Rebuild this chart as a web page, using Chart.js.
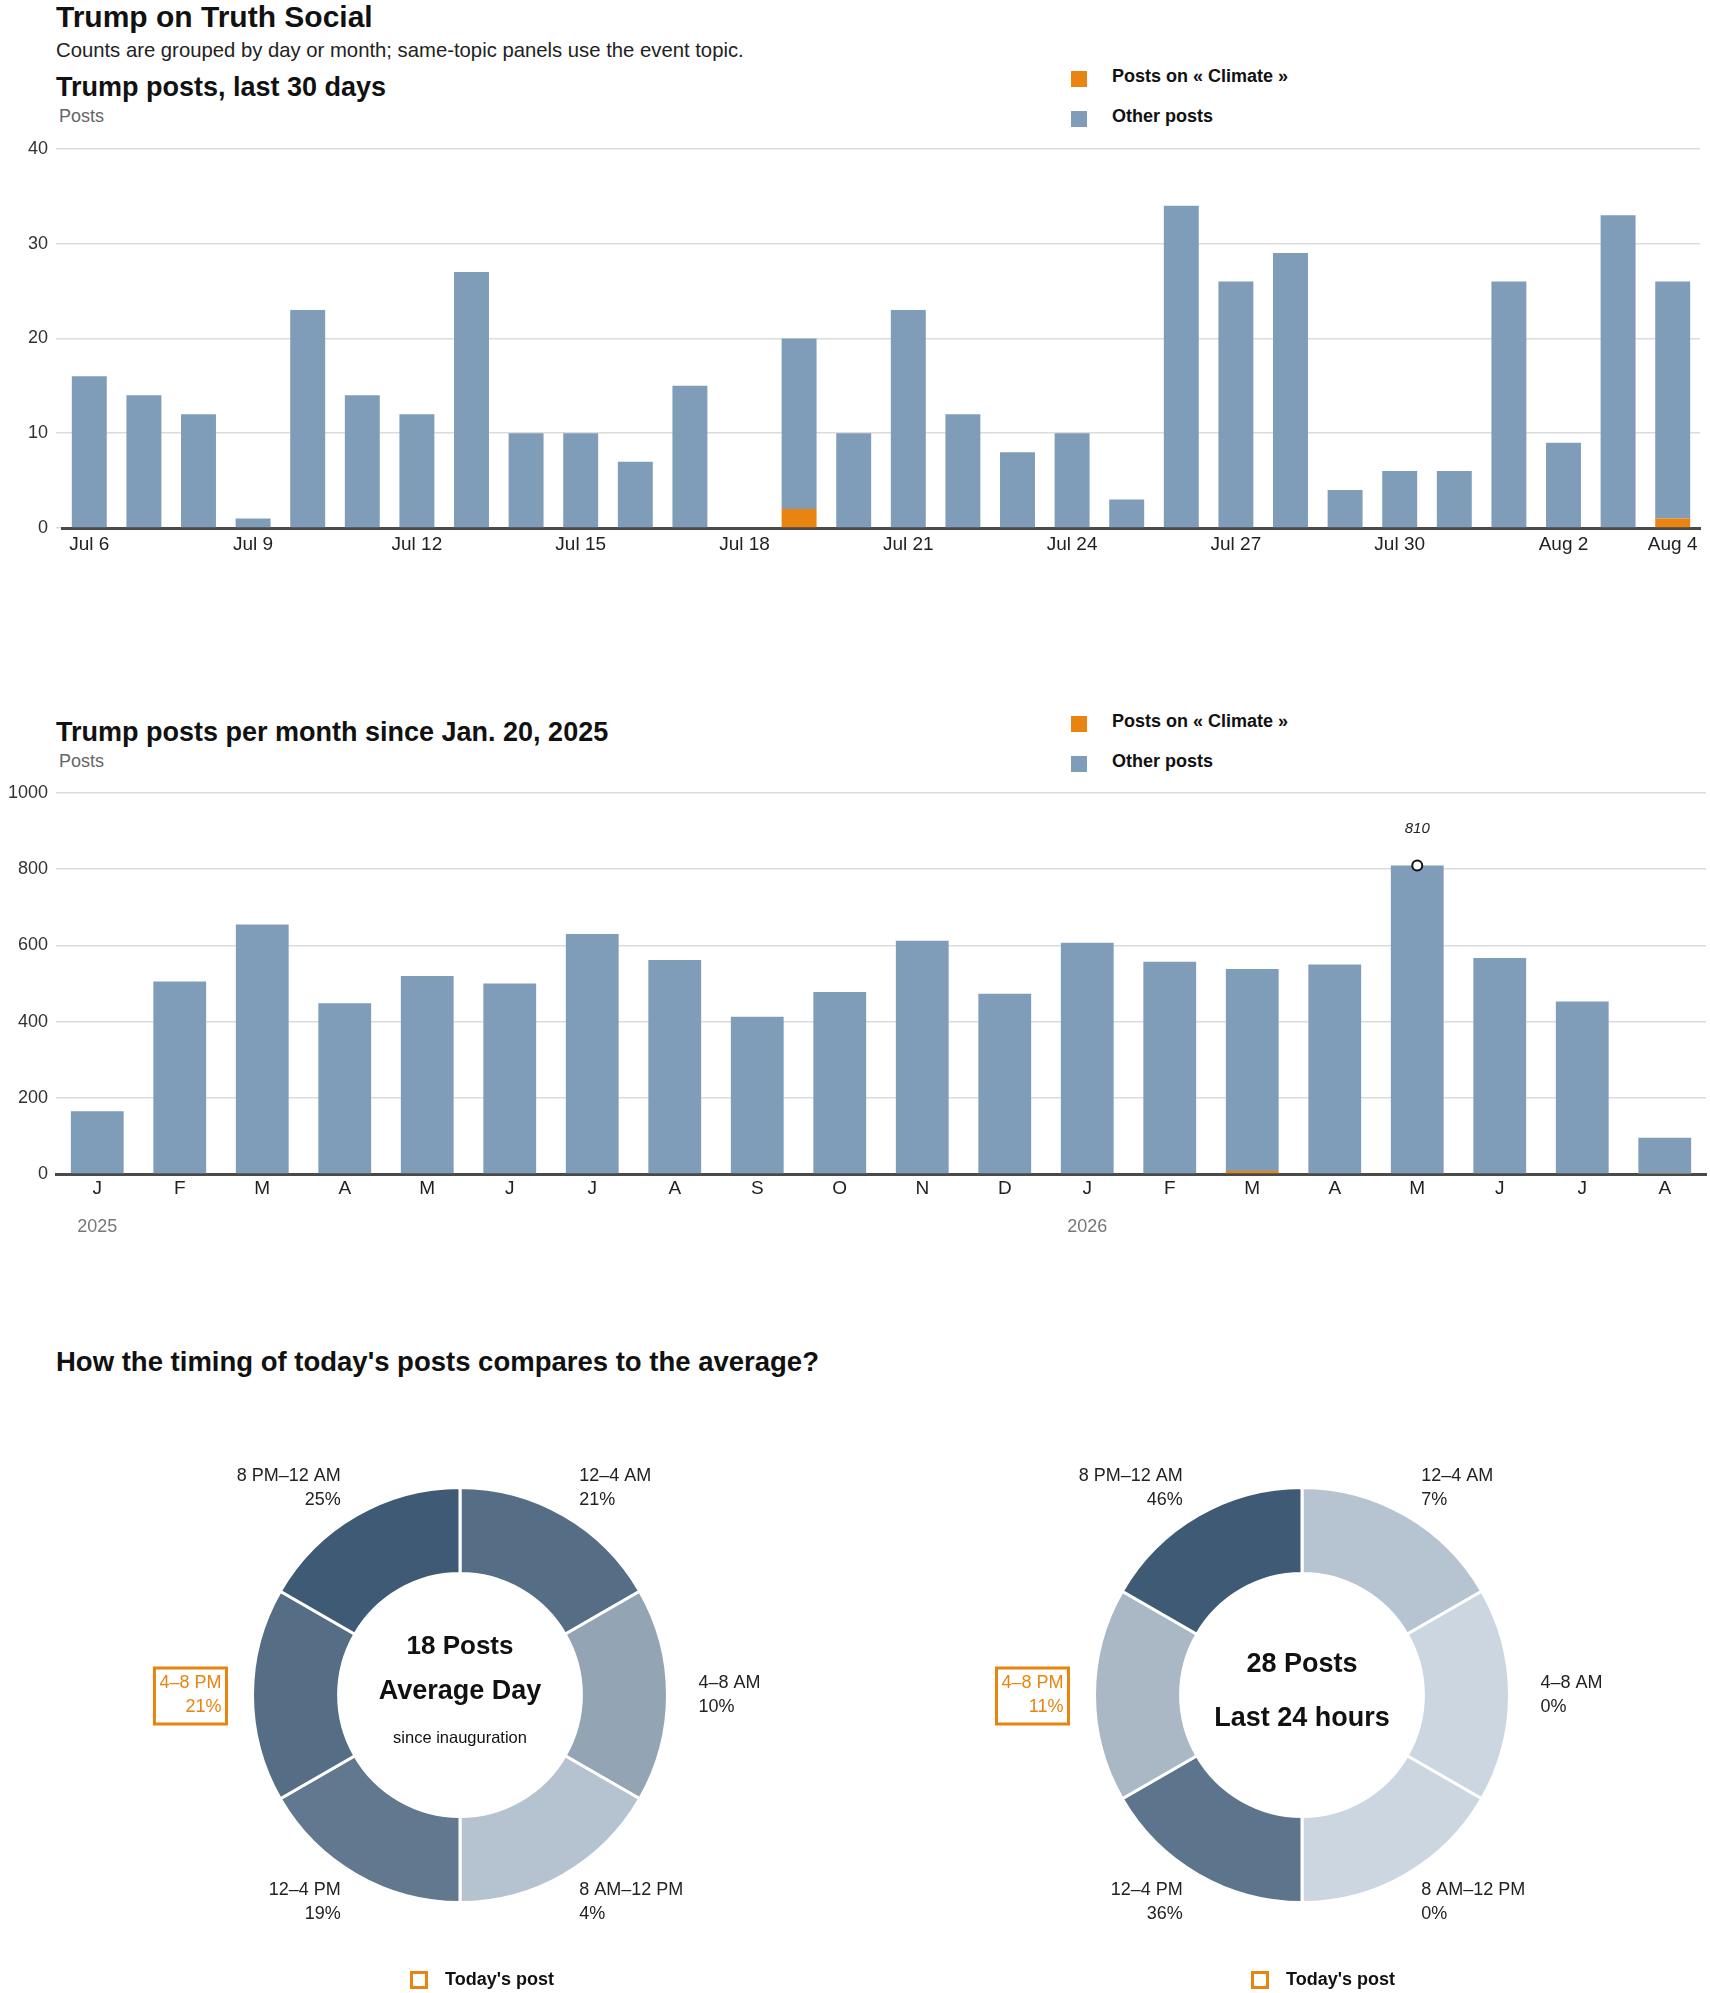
<!DOCTYPE html>
<html>
<head>
<meta charset="utf-8">
<script src="https://cdn.jsdelivr.net/npm/chart.js@4.4.1/dist/chart.umd.min.js"></script>
<style>
  body { margin: 0; background: #fff; font-family: "Liberation Sans", Arial, sans-serif; color: #111; }
  #page { position: relative; width: 1710px; height: 1993px; overflow: hidden; }
  .t { position: absolute; white-space: nowrap; line-height: 1; }
  .h1 { font-size: 30px; font-weight: 700; }
  .h2 { font-size: 27px; font-weight: 700; }
  .sub { font-size: 20.3px; color: #222; }
  .unit { font-size: 18px; color: #666; }
  canvas { position: absolute; }
  .legend { position: absolute; }
  .legend .item { display: flex; align-items: center; height: 16px; margin-bottom: 24px; font-size: 18px; font-weight: 700; color: #111; }
  .legend .item span.txt { position: relative; top: -3px; }
  .legend .sw { width: 16px; height: 16px; margin-right: 25px; }
  .today { position: absolute; display: flex; align-items: center; font-size: 18px; font-weight: 700; color: #111; }
  .today .box { width: 12px; height: 12px; border: 3px solid #e8840f; margin-right: 17px; }
</style>
</head>
<body>
<div id="page">
  <div class="t h1" style="left:56px;top:2px;">Trump on Truth Social</div>
  <div class="t sub" style="left:56px;top:40px;">Counts are grouped by day or month; same-topic panels use the event topic.</div>

  <div class="t h2" style="left:56px;top:74px;">Trump posts, last 30 days</div>
  <div class="t unit" style="left:59px;top:107px;">Posts</div>
  <div class="legend" id="legend1" style="left:1071px;top:71px;"></div>
  <canvas id="daily" width="1710" height="440" style="left:0;top:130px;"></canvas>

  <div class="t h2" style="left:56px;top:719px;">Trump posts per month since Jan. 20, 2025</div>
  <div class="t unit" style="left:59px;top:752px;">Posts</div>
  <div class="legend" id="legend2" style="left:1071px;top:716px;"></div>
  <canvas id="monthly" width="1710" height="480" style="left:0;top:770px;"></canvas>

  <div class="t h2" style="left:56px;top:1348px;font-size:27.5px;">How the timing of today's posts compares to the average?</div>
  <canvas id="donutAvg" width="855" height="563" style="left:0;top:1430px;"></canvas>
  <canvas id="donutToday" width="855" height="563" style="left:855px;top:1430px;"></canvas>
  <div class="today" style="left:410px;top:1969px;"><span class="box"></span>Today's post</div>
  <div class="today" style="left:1251px;top:1969px;"><span class="box"></span>Today's post</div>
</div>

<script>
// ---- data ----
var dayLabels = ['Jul 6', 'Jul 7', 'Jul 8', 'Jul 9', 'Jul 10', 'Jul 11', 'Jul 12', 'Jul 13', 'Jul 14', 'Jul 15',
  'Jul 16', 'Jul 17', 'Jul 18', 'Jul 19', 'Jul 20', 'Jul 21', 'Jul 22', 'Jul 23', 'Jul 24', 'Jul 25',
  'Jul 26', 'Jul 27', 'Jul 28', 'Jul 29', 'Jul 30', 'Jul 31', 'Aug 1', 'Aug 2', 'Aug 3', 'Aug 4'];
var dailyClimate = [0, 0, 0, 0, 0, 0, 0, 0, 0, 0, 0, 0, 0, 2, 0, 0, 0, 0, 0, 0, 0, 0, 0, 0, 0, 0, 0, 0, 0, 1];
var dailyOther = [16, 14, 12, 1, 23, 14, 12, 27, 10, 10, 7, 15, 0, 18, 10, 23, 12, 8, 10, 3, 34, 26, 29, 4, 6, 6, 26, 9, 33, 25];
var dailyTicks = [0, 10, 20, 30, 40];

var monthLabels = ['J', 'F', 'M', 'A', 'M', 'J', 'J', 'A', 'S', 'O', 'N', 'D', 'J', 'F', 'M', 'A', 'M', 'J', 'J', 'A'];
var monthYears = ['2025', '', '', '', '', '', '', '', '', '', '', '', '2026', '', '', '', '', '', '', ''];
var monthlyClimate = [0, 0, 0, 0, 0, 0, 0, 0, 0, 0, 0, 0, 0, 0, 8, 0, 0, 0, 2, 1];
var monthlyOther = [165, 505, 655, 448, 520, 500, 630, 562, 413, 478, 612, 473, 607, 557, 530, 550, 810, 567, 451, 94];
var monthlyTicks = [0, 200, 400, 600, 800, 1000];

var slotLabels = ['12–4 AM', '4–8 AM', '8 AM–12 PM', '12–4 PM', '4–8 PM', '8 PM–12 AM'];
var slotHours = [4, 4, 4, 4, 4, 4];
var avgShare = [21, 10, 4, 19, 21, 25];
var todayShare = [7, 0, 0, 36, 11, 46];
var currentSlot = 4;
var avgPostsPerDay = 18;
var last24Posts = 28;

var seriesNames = ['Posts on « Climate »', 'Other posts'];

// ---- style ----
var ORANGE = '#e8840f';
var BLUE = '#7f9db8';
var FONT = '"Liberation Sans", Arial, sans-serif';
Chart.defaults.font.family = FONT;
Chart.defaults.color = '#222';
Chart.defaults.animation = false;

function shade(p, max) {
  var light = [203, 214, 224], dark = [63, 90, 117];
  var t = max ? p / max : 0;
  var c = light.map(function (l, i) { return Math.round(l + (dark[i] - l) * t); });
  return 'rgb(' + c.join(',') + ')';
}

function htmlLegend(chart, el) {
  chart.data.datasets.forEach(function (ds) {
    var item = document.createElement('div');
    item.className = 'item';
    var sw = document.createElement('span');
    sw.className = 'sw';
    sw.style.background = ds.backgroundColor;
    var txt = document.createElement('span');
    txt.className = 'txt';
    txt.textContent = ds.label;
    item.appendChild(sw);
    item.appendChild(txt);
    el.appendChild(item);
  });
}

// inset: gap between the gridline ends and the first/last bar slot
function stackedBars(canvasId, labels, climate, other, ticks, axisH, padTop, inset, xPad, tickCb, extraPlugins) {
  return new Chart(document.getElementById(canvasId), {
    type: 'bar',
    data: {
      labels: labels,
      datasets: [
        { label: seriesNames[0], data: climate, backgroundColor: ORANGE },
        { label: seriesNames[1], data: other, backgroundColor: BLUE }
      ]
    },
    options: {
      responsive: false,
      layout: { padding: { top: padTop, right: 4 + inset, left: 0, bottom: 0 } },
      datasets: { bar: { categoryPercentage: 1, barPercentage: 0.64 } },
      scales: {
        x: {
          stacked: true,
          z: 1,
          grid: { display: false, drawTicks: false },
          border: { display: true, color: '#4a4a4a', width: 3 },
          ticks: { autoSkip: false, maxRotation: 0, padding: xPad, font: { size: 19 }, color: '#222', callback: tickCb },
          afterFit: function (s) { s.height = axisH; }
        },
        y: {
          stacked: true,
          min: ticks[0],
          max: ticks[ticks.length - 1],
          afterBuildTicks: function (s) { s.ticks = ticks.map(function (v) { return { value: v }; }); },
          ticks: { padding: 8, font: { size: 18 }, color: '#333', callback: function (v) { return String(v); } },
          grid: { color: '#dcdcdc', lineWidth: 1.5, drawTicks: inset > 0, tickLength: inset },
          border: { display: false },
          afterFit: function (s) { s.width = 56 + inset; }
        }
      },
      plugins: { legend: { display: false }, tooltip: { enabled: false } }
    },
    plugins: extraPlugins || []
  });
}

// Chart 1: daily
var daily = stackedBars('daily', dayLabels, dailyClimate, dailyOther, dailyTicks, 42, 17, 6, 5,
  function (v, i) { return (i % 3 === 0 || i === dayLabels.length - 1) ? dayLabels[i] : ''; });
htmlLegend(daily, document.getElementById('legend1'));

// Chart 2: monthly, with year labels and peak marker
var yearPlugin = {
  id: 'years',
  afterDraw: function (chart) {
    var ctx = chart.ctx, x = chart.scales.x;
    ctx.save();
    ctx.font = '18px ' + FONT;
    ctx.fillStyle = '#777';
    ctx.textAlign = 'center';
    ctx.textBaseline = 'middle';
    monthYears.forEach(function (y, i) {
      if (y) ctx.fillText(y, x.getPixelForValue(i), chart.chartArea.bottom + 53);
    });
    ctx.restore();
  }
};
var peakPlugin = {
  id: 'peak',
  afterDatasetsDraw: function (chart) {
    var totals = monthlyOther.map(function (v, i) { return v + monthlyClimate[i]; });
    var idx = totals.indexOf(Math.max.apply(null, totals));
    var x = chart.scales.x.getPixelForValue(idx);
    var y = chart.scales.y.getPixelForValue(totals[idx]);
    var ctx = chart.ctx;
    ctx.save();
    ctx.beginPath();
    ctx.arc(x, y, 5, 0, Math.PI * 2);
    ctx.fillStyle = '#fff';
    ctx.fill();
    ctx.lineWidth = 2;
    ctx.strokeStyle = '#111';
    ctx.stroke();
    ctx.font = 'italic 15px "Liberation Sans Narrow", ' + FONT;
    ctx.fillStyle = '#222';
    ctx.textAlign = 'center';
    ctx.textBaseline = 'middle';
    ctx.fillText(String(totals[idx]), x, y - 37);
    ctx.restore();
  }
};
var monthly = stackedBars('monthly', monthLabels, monthlyClimate, monthlyOther, monthlyTicks, 76, 23, 0, 3,
  function (v, i) { return monthLabels[i]; }, [yearPlugin, peakPlugin]);
htmlLegend(monthly, document.getElementById('legend2'));

// Donuts
var slotLabelPlugin = {
  id: 'slotText',
  afterDraw: function (chart, args, opts) {
    var ctx = chart.ctx;
    var arcs = chart.getDatasetMeta(0).data;
    ctx.save();
    ctx.font = '18px ' + FONT;
    ctx.textBaseline = 'middle';
    arcs.forEach(function (arc, i) {
      var a = (arc.startAngle + arc.endAngle) / 2;
      var r = arc.outerRadius + 31;
      var ax = arc.x + Math.cos(a) * r;
      var ay = arc.y + Math.sin(a) * r;
      var left = Math.cos(a) < 0;
      var lines = [chart.data.labels[i], opts.share[i] + '%'];
      ctx.textAlign = left ? 'right' : 'left';
      ctx.fillStyle = i === currentSlot ? ORANGE : '#222';
      ctx.fillText(lines[0], ax, ay - 12);
      ctx.fillText(lines[1], ax, ay + 12);
      if (i === currentSlot) {
        var w = Math.max(ctx.measureText(lines[0]).width, ctx.measureText(lines[1]).width);
        var bx = left ? ax - w - 5 : ax - 5;
        ctx.strokeStyle = ORANGE;
        ctx.lineWidth = 3;
        ctx.strokeRect(bx, ay - 27, w + 10, 56);
      }
    });
    ctx.restore();
  }
};
var centerPlugin = {
  id: 'centerText',
  afterDraw: function (chart, args, opts) {
    var ctx = chart.ctx;
    var arc = chart.getDatasetMeta(0).data[0];
    ctx.save();
    ctx.textAlign = 'center';
    ctx.textBaseline = 'middle';
    ctx.fillStyle = '#111';
    opts.lines.forEach(function (l) {
      ctx.font = l.font + ' ' + FONT;
      ctx.fillText(l.text, arc.x, arc.y + l.dy);
    });
    ctx.restore();
  }
};

function donut(canvasId, share, padL, padR, lines) {
  var max = Math.max.apply(null, share);
  return new Chart(document.getElementById(canvasId), {
    type: 'doughnut',
    data: {
      labels: slotLabels,
      datasets: [{
        data: slotHours,
        backgroundColor: share.map(function (p) { return shade(p, max); }),
        borderColor: '#fff',
        borderWidth: 3
      }]
    },
    options: {
      responsive: false,
      cutout: '58.5%',
      layout: { padding: { left: padL, right: padR, top: 56, bottom: 89 } },
      plugins: {
        legend: { display: false },
        tooltip: { enabled: false },
        slotText: { share: share },
        centerText: { lines: lines }
      }
    },
    plugins: [slotLabelPlugin, centerPlugin]
  });
}

donut('donutAvg', avgShare, 251, 186, [
  { text: avgPostsPerDay + ' Posts', font: 'bold 26px', dy: -48 },
  { text: 'Average Day', font: 'bold 27px', dy: -3 },
  { text: 'since inauguration', font: '16.5px', dy: 43 }
]);
donut('donutToday', todayShare, 238, 199, [
  { text: last24Posts + ' Posts', font: 'bold 27px', dy: -30 },
  { text: 'Last 24 hours', font: 'bold 27px', dy: 24 }
]);
</script>
</body>
</html>
